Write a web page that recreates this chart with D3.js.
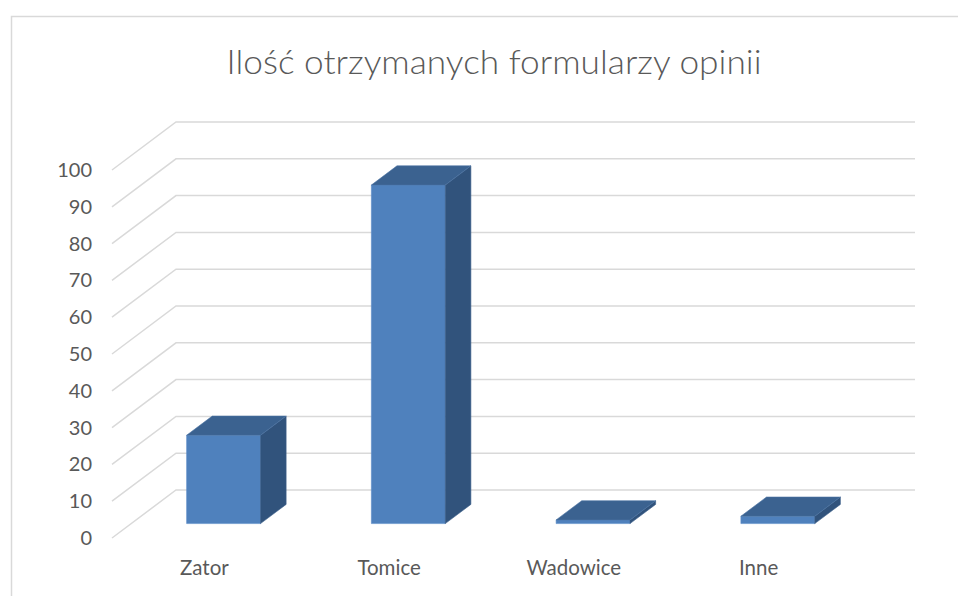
<!DOCTYPE html>
<html>
<head>
<meta charset="utf-8">
<script src="https://cdn.jsdelivr.net/npm/d3@7"></script>
<style>
  body { margin: 0; background: #fff; }
  text { font-family: Lato, "Open Sans", sans-serif; fill: #595959; }
</style>
</head>
<body>
<div id="chart"></div>
<script>
var title = "Ilość otrzymanych formularzy opinii";
var categories = ["Zator", "Tomice", "Wadowice", "Inne"];
var values = [24, 92, 1, 2];
var tickValues = [0, 10, 20, 30, 40, 50, 60, 70, 80, 90, 100];

var width = 958, height = 596;
var plot = {left: 112, right: 851, bottom: 538, top: 170};
var depth = {dx: 64, dy: -48};
var barDepth = [0.3, 0.7];   // fraction of floor depth used by bars

var svg = d3.select("#chart")
    .append("svg")
    .attr("width", width)
    .attr("height", height);

svg.append("rect")
    .attr("width", width).attr("height", height)
    .attr("fill", "#fff");

// chart frame
svg.append("rect")
    .attr("x", 11.5).attr("y", 16.5)
    .attr("width", 1000).attr("height", 700)
    .attr("fill", "none")
    .attr("stroke", "#D9D9D9")
    .attr("stroke-width", 1.5);

var y = d3.scaleLinear().domain([0, 100]).range([plot.bottom, plot.top]);
var x = d3.scaleBand().domain(categories).range([plot.left, plot.right]).padding(0);

// gridlines: front-left diagonal + back wall line
svg.append("g")
    .selectAll("polyline")
    .data(tickValues)
    .join("polyline")
    .attr("points", function(d) {
        var yy = y(d);
        return [[plot.left, yy], [plot.left + depth.dx, yy + depth.dy],
                [plot.right + depth.dx, yy + depth.dy]].join(" ");
    })
    .attr("fill", "none")
    .attr("stroke", "#D9D9D9")
    .attr("stroke-width", 1.5);

// y axis labels
svg.append("g")
    .selectAll("text")
    .data(tickValues)
    .join("text")
    .attr("x", 92)
    .attr("y", function(d) { return y(d); })
    .attr("dy", "0.35em")
    .attr("text-anchor", "end")
    .style("font-size", "20px")
    .text(function(d) { return d; });

// bars
var bw = x.bandwidth() * 0.4;
var ox = depth.dx * barDepth[0], oy = depth.dy * barDepth[0];
var ddx = depth.dx * (barDepth[1] - barDepth[0]), ddy = depth.dy * (barDepth[1] - barDepth[0]);

var bars = svg.append("g")
    .selectAll("g")
    .data(categories.map(function(c, i) { return {cat: c, v: values[i]}; }))
    .join("g");

bars.each(function(d) {
    var g = d3.select(this);
    var x0 = x(d.cat) + x.bandwidth() / 2 - bw / 2 + ox;
    var x1 = x0 + bw;
    var yb = y(0) + oy;
    var yt = y(d.v) + oy;
    // front
    g.append("polygon")
        .attr("points", [[x0, yb], [x1, yb], [x1, yt], [x0, yt]].join(" "))
        .attr("fill", "#4F81BD")
        .attr("stroke", "#5A8CC8").attr("stroke-width", 0.6);
    // side
    g.append("polygon")
        .attr("points", [[x1, yb], [x1 + ddx, yb + ddy], [x1 + ddx, yt + ddy], [x1, yt]].join(" "))
        .attr("fill", "#31537C")
        .attr("stroke", "#3A5E8A").attr("stroke-width", 0.6);
    // top
    g.append("polygon")
        .attr("points", [[x0, yt], [x1, yt], [x1 + ddx, yt + ddy], [x0 + ddx, yt + ddy]].join(" "))
        .attr("fill", "#3B6290")
        .attr("stroke", "#4A72A2").attr("stroke-width", 0.6);
});

// category labels
svg.append("g")
    .selectAll("text")
    .data(categories)
    .join("text")
    .attr("x", function(d) { return x(d) + x.bandwidth() / 2; })
    .attr("y", 568)
    .attr("dy", "0.35em")
    .attr("text-anchor", "middle")
    .style("font-size", "20.5px")
    .text(function(d) { return d; });

// title
svg.append("text")
    .attr("x", 494)
    .attr("y", 62)
    .attr("dy", "0.35em")
    .attr("text-anchor", "middle")
    .style("font-size", "34px")
    .style("font-weight", 300)
    .attr("textLength", 535)
    .attr("lengthAdjust", "spacingAndGlyphs")
    .text(title);
</script>
</body>
</html>
